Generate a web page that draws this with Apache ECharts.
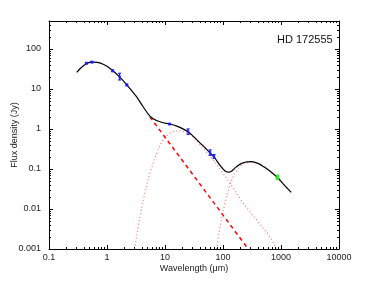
<!DOCTYPE html>
<html><head><meta charset="utf-8">
<script src="https://cdn.jsdelivr.net/npm/echarts@6/dist/echarts.min.js"></script>
<style>html,body{margin:0;padding:0;background:#fff}#c{width:374px;height:281px}</style>
</head><body><div id="c"></div>
<script>
// ---- data ----
const xTicks = [0.1, 1, 10, 100, 1000, 10000];
const yTicks = [0.001, 0.01, 0.1, 1, 10, 100];
const xRange = [0.1, 10000];
const yRange = [0.001, 500];
const titleText = 'HD 172555';
const xName = 'Wavelength (\u03bcm)';
const yName = 'Flux density (Jy)';

// total model SED [wavelength um, flux Jy]
const totalSED = [[0.3,26],[0.35,33],[0.42,41],[0.5,46],[0.6,47],[0.75,45],[1.0,37],[1.25,29],[1.65,20],
  [2.2,12.6],[3.2,6.5],[4.2,3.6],[5.5,2.1],[7,1.65],[9,1.45],[12,1.33],[16,1.18],[20,1.02],[25,0.85],
  [32,0.62],[40,0.45],[50,0.33],[60,0.25],[70,0.2],[90,0.12],[110,0.088],[125,0.083],[140,0.088],
  [170,0.113],[210,0.138],[260,0.15],[310,0.152],[400,0.138],[500,0.115],[650,0.088],[850,0.063],
  [1100,0.042],[1500,0.026]];
// stellar photosphere (dashed)
const stellar = [[5.5,2.0],[273,0.001]];
// warm dust component (dotted)
const warmDust = [[3.0,0.001],[3.7,0.0064],[4.5,0.025],[5.5,0.078],[7.2,0.245],[9.3,0.53],[13,0.83],
  [18,0.9],[23,0.82],[29,0.67],[37,0.47],[46,0.32],[60,0.21],[89,0.1],[151,0.033],[224,0.0139],
  [380,0.0053],[646,0.002],[820,0.001]];
// cold dust component (dotted)
const coldDust = [[78,0.001],[89,0.0036],[108,0.0139],[132,0.04],[161,0.078],[210,0.126],[292,0.147],
  [360,0.145],[500,0.112],[850,0.062],[1500,0.025]];
// photometry [wavelength, flux, low, high]
const photBlue = [[0.44,44,42,46],[0.55,47,45,49],[1.25,28.5,27,30],[1.65,20,16.8,24.6],[2.2,12.6,12,13.3],
  [12,1.33,1.28,1.38],[25,0.86,0.73,1.0],[60,0.26,0.22,0.3],[70,0.205,0.185,0.23]];
const photGreen = [[870,0.062,0.055,0.07]];

// ---- build ----
function minorOf(majors, maxV){
  const out=[];
  majors.forEach(d=>{for(let k=2;k<=9;k++){const v=+(d*k).toPrecision(3); if(v<maxV) out.push(v);}});
  return out;
}
const xMinor = minorOf(xTicks, xRange[1]);
const yMinor = minorOf(yTicks, yRange[1]);
const FONT = 'Liberation Sans';
const fmt = v => String(parseFloat((+v).toPrecision(3)));

function axis(kind, pos, ticks, len, opts){
  const rng = kind==='x'?xRange:yRange;
  return Object.assign({
    type:'log', logBase:10, position:pos, min:rng[0], max:rng[1],
    splitLine:{show:false},
    axisLine:{show:true, onZero:false, lineStyle:{color:'#000', width:1}},
    axisTick:{show:true, inside:true, length:len, customValues:ticks, lineStyle:{color:'#000', width:1}},
    axisLabel:{show:false}
  }, opts||{});
}

const chart = echarts.init(document.getElementById('c'), null, {renderer:'canvas'});

function errSeries(data, color){
  return {
    type:'custom', xAxisIndex:0, yAxisIndex:0, z:5,
    data: data.map(d=>[d[0], d[2], d[3]]),
    encode:{x:0, y:[1,2]},
    renderItem:(params, api)=>{
      const x=api.value(0), p1=api.coord([x, api.value(1)]), p2=api.coord([x, api.value(2)]);
      const w=1.5, st={stroke:color, lineWidth:1.2};
      return {type:'group', children:[
        {type:'line', shape:{x1:p1[0],y1:p1[1],x2:p2[0],y2:p2[1]}, style:st},
        {type:'line', shape:{x1:p1[0]-w,y1:p1[1],x2:p1[0]+w,y2:p1[1]}, style:st},
        {type:'line', shape:{x1:p2[0]-w,y1:p2[1],x2:p2[0]+w,y2:p2[1]}, style:st}
      ]};
    }
  };
}

chart.setOption({
  animation:false,
  textStyle:{fontFamily:FONT},
  title:{text:titleText, left:272, top:29, textStyle:{fontFamily:FONT, fontSize:11, fontWeight:'normal', color:'#111'}},
  grid:{left:49, right:35, top:21, bottom:32, containLabel:false, outerBoundsMode:'none'},
  xAxis:[
    axis('x','bottom',xTicks,4,{
      name:xName, nameLocation:'middle', nameGap:15, nameMoveOverlap:false,
      nameTextStyle:{fontFamily:FONT, fontSize:9, color:'#222'},
      axisLabel:{show:true, customValues:xTicks, formatter:fmt, fontFamily:FONT, fontSize:9, color:'#222', margin:4, showMaxLabel:true, showMinLabel:true}
    }),
    axis('x','bottom',xMinor,2,{axisLine:{show:false}}),
    axis('x','top',xTicks,4),
    axis('x','top',xMinor,2,{axisLine:{show:false}})
  ],
  yAxis:[
    axis('y','left',yTicks,4,{
      name:yName, nameLocation:'middle', nameGap:30, nameMoveOverlap:false,
      nameTextStyle:{fontFamily:FONT, fontSize:9, color:'#222'},
      axisLabel:{show:true, customValues:yTicks, formatter:fmt, fontFamily:FONT, fontSize:9, color:'#222', margin:8}
    }),
    axis('y','left',yMinor,2,{axisLine:{show:false}}),
    axis('y','right',yTicks,4),
    axis('y','right',yMinor,2,{axisLine:{show:false}})
  ],
  series:[
    {type:'line', data:warmDust, smooth:0.35, showSymbol:false, z:2,
     lineStyle:{color:'rgba(255,40,40,0.6)', width:1.3, type:[1,2.5]}},
    {type:'line', data:coldDust, smooth:0.35, showSymbol:false, z:2,
     lineStyle:{color:'rgba(255,40,40,0.6)', width:1.3, type:[1,2.5]}},
    {type:'line', data:stellar, showSymbol:false, z:3,
     lineStyle:{color:'#ff0000', width:1.5, type:[4,3.5]}},
    {type:'line', data:totalSED, smooth:0.35, showSymbol:false, z:4,
     lineStyle:{color:'#000', width:1.2}},
    errSeries(photBlue,'#1a1aff'),
    errSeries(photGreen,'#22ee22'),
    {type:'scatter', data:photBlue.map(d=>[d[0],d[1]]), symbol:'rect', symbolSize:2.5, z:6, itemStyle:{color:'#1a1aff'}},
    {type:'scatter', data:photGreen.map(d=>[d[0],d[1]]), symbol:'rect', symbolSize:4, z:6, itemStyle:{color:'#22ee22'}}
  ]
});
</script>
</body></html>
